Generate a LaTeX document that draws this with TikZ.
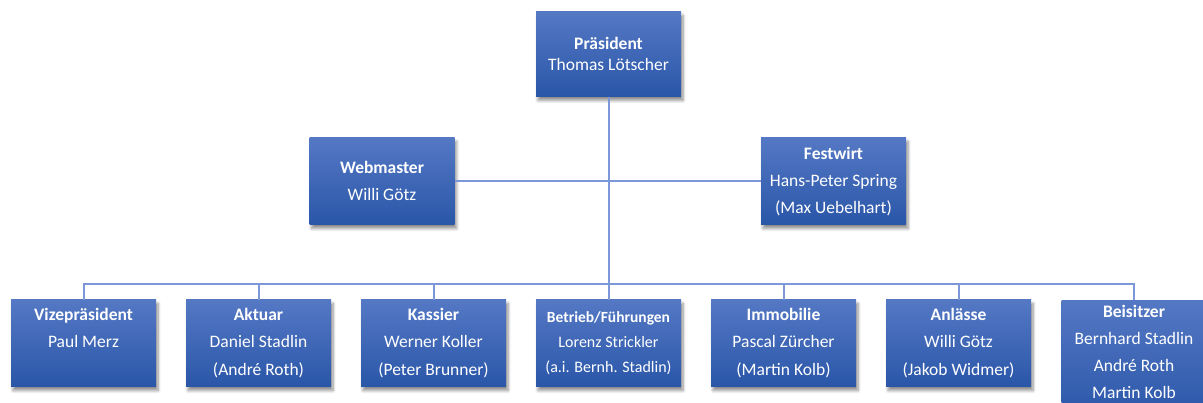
\documentclass[tikz,border=0pt]{standalone}
\usepackage{fontspec}
\setmainfont{Carlito}
\usetikzlibrary{shadows.blur}
\definecolor{boxtop}{RGB}{84,120,196}
\definecolor{boxbot}{RGB}{42,86,168}
\definecolor{linec}{RGB}{124,152,216}
\tikzset{
  orgbox/.style={rectangle, inner sep=0, minimum width=145pt, minimum height=87pt,
    top color=boxtop, bottom color=boxbot, draw=none,
    blur shadow={shadow xshift=2pt, shadow yshift=-3.5pt, shadow blur radius=3pt, shadow blur steps=6, shadow opacity=45}},
  conn/.style={draw=linec, line width=2pt},
  txt/.style={text=white, inner sep=0, anchor=base, font=\fontsize{17.5}{21}\selectfont},
  hd/.style={txt, font=\bfseries\fontsize{17.5}{21}\selectfont},
  stxt/.style={txt, font=\fontsize{16}{21}\selectfont},
  shd/.style={txt, font=\bfseries\fontsize{15.5}{21}\selectfont},
}
\begin{document}
\begin{tikzpicture}[x=1pt,y=-1pt]
\useasboundingbox (0,0) rectangle (1203,403);
\clip (0,0) rectangle (1203,403);
% boxes
\node[orgbox, minimum height=85pt] (pres) at (608.5,54.5) {};
\node[orgbox] (web) at (382,181.5) {};
\node[orgbox] (fest) at (833.5,181.5) {};
\node[orgbox] (vp) at (83.5,343.5) {};
\node[orgbox] (ak) at (258.5,343.5) {};
\node[orgbox] (ka) at (433.5,343.5) {};
\node[orgbox] (be) at (608.5,343.5) {};
\node[orgbox] (im) at (783.5,343.5) {};
\node[orgbox] (an) at (958.5,343.5) {};
\node[orgbox, minimum height=120pt, anchor=north] (bz) at (1134,300) {};
% connectors
\coordinate (bus) at (0,284);
\draw[conn] (pres.south) -- (be.north);
\draw[conn] (web.east) -- (fest.west);
\draw[conn] (vp.north) -- (vp.north |- bus) -- (bz.north |- bus) -- (bz.north);
\draw[conn] (ak.north) -- (ak.north |- bus);
\draw[conn] (ka.north) -- (ka.north |- bus);
\draw[conn] (im.north) -- (im.north |- bus);
\draw[conn] (an.north) -- (an.north |- bus);
% texts
\node[hd] (t1a) at (608.5,50) {Präsident};
\node[txt] (t1b) at (608.5,70.5) {Thomas Lötscher};
\node[hd] (t2a) at (382,173.5) {Webmaster};
\node[txt] (t2b) at (382,200.5) {Willi Götz};
\node[hd] (t3a) at (833.5,159.5) {Festwirt};
\node[txt] (t3b) at (833.5,186.5) {Hans-Peter Spring};
\node[txt] (t3c) at (833.5,213.5) {(Max Uebelhart)};
\node[hd] (t4a) at (83.5,320.5) {Vizepräsident};
\node[txt] (t4b) at (83.5,348) {Paul Merz};
\node[hd] (t5a) at (258.5,320.5) {Aktuar};
\node[txt] (t5b) at (258.5,348) {Daniel Stadlin};
\node[txt] (t5c) at (258.5,375.5) {(André Roth)};
\node[hd] (t6a) at (433.5,320.5) {Kassier};
\node[txt] (t6b) at (433.5,348) {Werner Koller};
\node[txt] (t6c) at (433.5,375.5) {(Peter Brunner)};
\node[shd] (t7a) at (608.5,323) {Betrieb/Führungen};
\node[stxt] (t7b) at (608.5,348) {Lorenz Strickler};
\node[stxt] (t7c) at (608.5,373) {(a.i. Bernh. Stadlin)};
\node[hd] (t8a) at (783.5,320.5) {Immobilie};
\node[txt] (t8b) at (783.5,348) {Pascal Zürcher};
\node[txt] (t8c) at (783.5,375.5) {(Martin Kolb)};
\node[hd] (t9a) at (958.5,320.5) {Anlässe};
\node[txt] (t9b) at (958.5,348) {Willi Götz};
\node[txt] (t9c) at (958.5,375.5) {(Jakob Widmer)};
\node[hd] (t10a) at (1134,318) {Beisitzer};
\node[txt] (t10b) at (1134,345) {Bernhard Stadlin};
\node[txt] (t10c) at (1134,372) {André Roth};
\node[txt] (t10d) at (1134,399) {Martin Kolb};
\end{tikzpicture}
\end{document}
